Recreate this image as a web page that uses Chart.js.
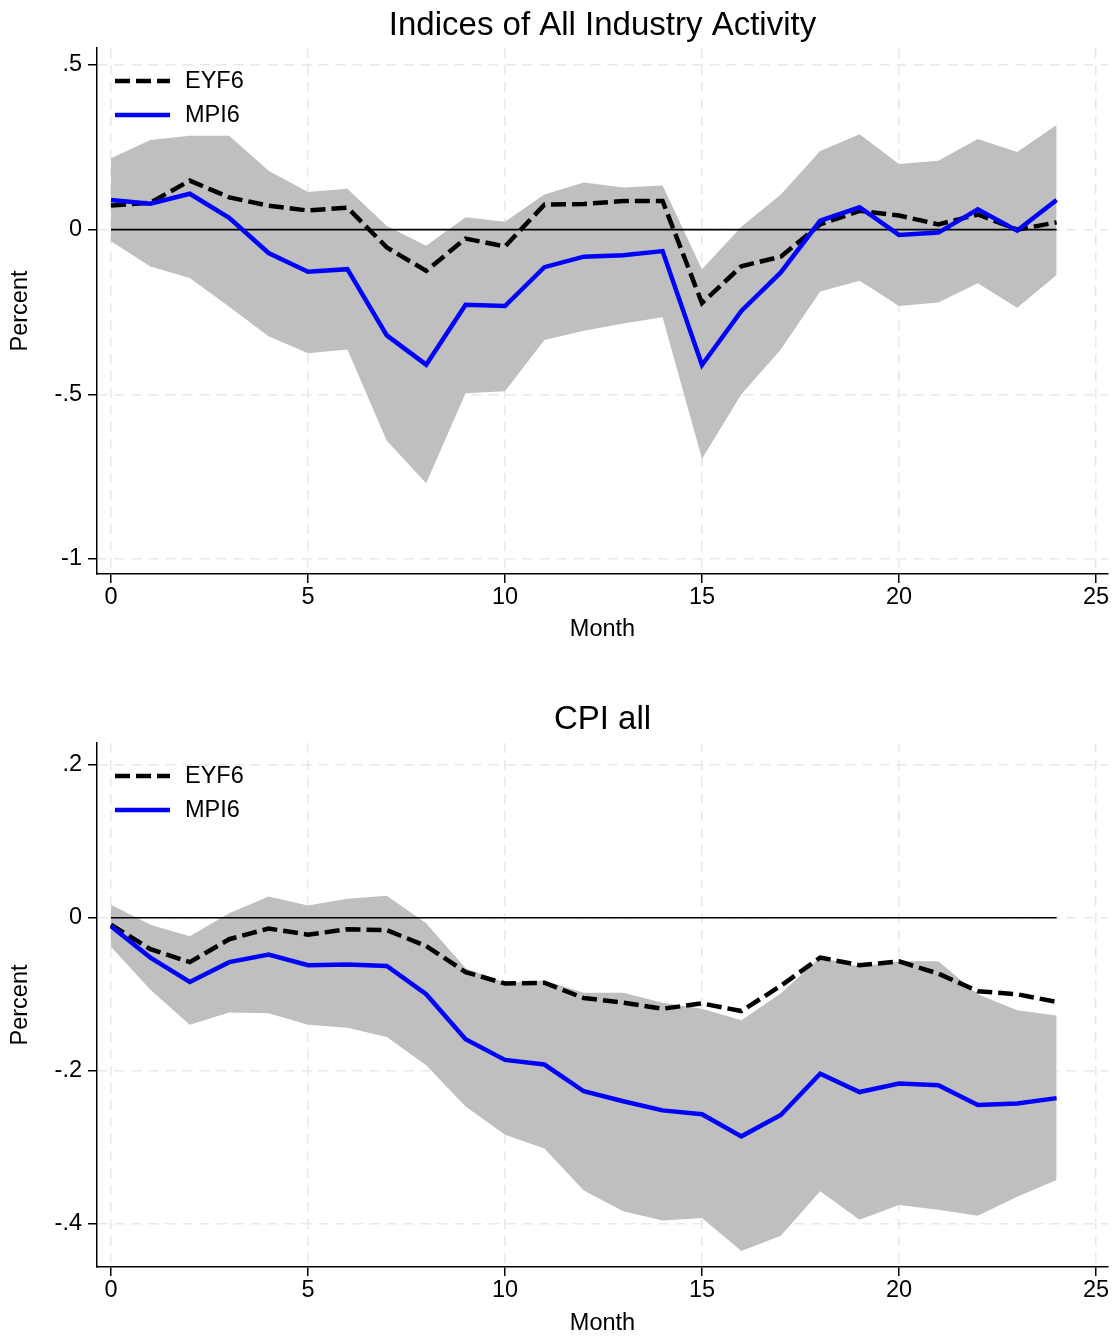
<!DOCTYPE html>
<html>
<head>
<meta charset="utf-8">
<script src="https://cdn.jsdelivr.net/npm/chart.js@4.4.1/dist/chart.umd.min.js"></script>
<style>
  body { margin: 0; background: #fff; }
  .panel { position: absolute; left: 0; }
</style>
</head>
<body>
<div class="panel" style="top:0"><canvas id="industry" width="1115" height="645"></canvas></div>
<div class="panel" style="top:645px"><canvas id="cpi" width="1115" height="691"></canvas></div>
<script>
// months after the shock
const months = [0, 1, 2, 3, 4, 5, 6, 7, 8, 9, 10, 11, 12, 13, 14, 15, 16, 17, 18, 19, 20, 21, 22, 23, 24];
const xTicks = [0, 5, 10, 15, 20, 25];

// Indices of All Industry Activity
const iaaEYF6  = [0.073, 0.082, 0.149, 0.098, 0.073, 0.058, 0.067, -0.054, -0.125, -0.027, -0.051, 0.076, 0.078, 0.087, 0.087, -0.223, -0.111, -0.082, 0.016, 0.057, 0.043, 0.016, 0.046, 0.000, 0.022];
const iaaMPI6  = [0.090, 0.079, 0.109, 0.036, -0.071, -0.128, -0.120, -0.321, -0.410, -0.228, -0.232, -0.114, -0.082, -0.078, -0.065, -0.411, -0.247, -0.130, 0.027, 0.068, -0.016, -0.009, 0.062, -0.003, 0.090];
const iaaUpper = [0.217, 0.272, 0.285, 0.285, 0.179, 0.114, 0.124, 0.011, -0.049, 0.038, 0.024, 0.107, 0.143, 0.128, 0.134, -0.120, 0.009, 0.107, 0.239, 0.290, 0.199, 0.209, 0.275, 0.236, 0.318];
const iaaLower = [-0.035, -0.112, -0.147, -0.234, -0.324, -0.375, -0.364, -0.641, -0.770, -0.497, -0.491, -0.335, -0.307, -0.285, -0.266, -0.696, -0.500, -0.364, -0.188, -0.155, -0.232, -0.221, -0.163, -0.237, -0.138];
const iaaYTicks = [-1, -0.5, 0, 0.5];
const iaaYLabels = ['-1', '-.5', '0', '.5'];

// CPI all
const cpiEYF6  = [-0.009, -0.041, -0.058, -0.028, -0.014, -0.022, -0.015, -0.016, -0.037, -0.071, -0.086, -0.085, -0.105, -0.111, -0.119, -0.112, -0.122, -0.089, -0.052, -0.062, -0.057, -0.073, -0.096, -0.100, -0.110];
const cpiMPI6  = [-0.011, -0.052, -0.084, -0.058, -0.048, -0.062, -0.061, -0.063, -0.100, -0.159, -0.186, -0.192, -0.227, -0.240, -0.252, -0.257, -0.286, -0.258, -0.204, -0.228, -0.217, -0.219, -0.245, -0.243, -0.236];
const cpiUpper = [0.017, -0.009, -0.024, 0.006, 0.028, 0.016, 0.025, 0.029, -0.007, -0.066, -0.085, -0.082, -0.098, -0.098, -0.111, -0.119, -0.134, -0.099, -0.052, -0.064, -0.057, -0.057, -0.100, -0.121, -0.128];
const cpiLower = [-0.038, -0.094, -0.140, -0.124, -0.125, -0.140, -0.144, -0.156, -0.193, -0.247, -0.284, -0.302, -0.357, -0.384, -0.396, -0.393, -0.436, -0.416, -0.358, -0.395, -0.376, -0.382, -0.390, -0.365, -0.343];
const cpiYTicks = [-0.4, -0.2, 0, 0.2];
const cpiYLabels = ['-.4', '-.2', '0', '.2'];

Chart.defaults.font.family = '"Liberation Sans", Arial, sans-serif';
Chart.defaults.color = '#000';

const FONT = 23.5;
const GRID = '#e8e8e8';
const DASH = [15, 6];

const pts = arr => months.map((m, i) => ({ x: m, y: arr[i] }));

// legend drawn inside the plot, top-left, like the original
const insideLegend = {
  id: 'insideLegend',
  afterDatasetsDraw(chart) {
    const { ctx, chartArea } = chart;
    const items = chart.data.datasets.filter(d => d.inLegend);
    items.forEach((d, i) => {
      const y = chartArea.top + 33 + i * 34;
      ctx.save();
      ctx.strokeStyle = d.borderColor;
      ctx.lineWidth = d.borderWidth;
      ctx.setLineDash(d.borderDash || []);
      ctx.beginPath();
      ctx.moveTo(chartArea.left + 18, y);
      ctx.lineTo(chartArea.left + 73, y);
      ctx.stroke();
      ctx.setLineDash([]);
      ctx.fillStyle = '#000';
      ctx.font = FONT + 'px "Liberation Sans", Arial, sans-serif';
      ctx.textBaseline = 'middle';
      ctx.fillText(d.label, chartArea.left + 88, y + 1);
      ctx.restore();
    });
  }
};

function makePanel(id, p) {
  new Chart(document.getElementById(id), {
    type: 'line',
    data: {
      datasets: [
        { label: 'upper', data: pts(p.upper), fill: '+1', backgroundColor: '#bfbfbf',
          borderColor: 'rgba(0,0,0,0)', borderWidth: 0, pointRadius: 0, order: 4 },
        { label: 'lower', data: pts(p.lower), fill: false, backgroundColor: '#bfbfbf',
          borderColor: 'rgba(0,0,0,0)', borderWidth: 0, pointRadius: 0, order: 5 },
        { label: 'zero', data: [{ x: months[0], y: 0 }, { x: months[months.length - 1], y: 0 }],
          borderColor: '#000', borderWidth: 1.6, pointRadius: 0, fill: false, order: 3 },
        { label: 'EYF6', inLegend: true, data: pts(p.eyf), borderColor: '#000', borderWidth: 4.5,
          borderDash: DASH, pointRadius: 0, fill: false, order: 2 },
        { label: 'MPI6', inLegend: true, data: pts(p.mpi), borderColor: '#0000ff', borderWidth: 4.5,
          pointRadius: 0, fill: false, order: 1 }
      ]
    },
    options: {
      responsive: false,
      animation: false,
      devicePixelRatio: 1,
      layout: { padding: { left: 0, right: 7, top: 0, bottom: 0 } },
      plugins: {
        legend: { display: false },
        tooltip: { enabled: false },
        title: {
          display: true, text: p.title, color: '#000', fullSize: false,
          font: { size: 33, weight: 'normal', lineHeight: 1.2 },
          padding: { top: p.titleTop, bottom: p.titleBottom }
        }
      },
      elements: { line: { tension: 0 } },
      scales: {
        x: {
          type: 'linear', min: -0.355, max: 25.305,
          afterBuildTicks: s => { s.ticks = xTicks.map(v => ({ value: v })); },
          afterFit: s => { s.height = p.xHeight; },
          ticks: { autoSkip: false, maxRotation: 0, padding: 0, font: { size: FONT }, callback: v => String(v) },
          grid: { color: GRID, lineWidth: 1.5, tickLength: 9, tickColor: '#000', tickWidth: 1.5 },
          border: { display: true, color: '#000', width: 1.5, dash: [10, 7] },
          title: { display: true, text: 'Month', font: { size: FONT, lineHeight: 1.2 },
                   padding: { top: 0, bottom: p.monthPad } }
        },
        y: {
          min: p.yMin, max: p.yMax,
          afterBuildTicks: s => { s.ticks = p.yTicks.map(v => ({ value: v })); },
          afterFit: s => { s.width = 97; },
          ticks: { autoSkip: false, padding: 6, font: { size: FONT }, callback: (v, i) => p.yLabels[i] },
          grid: { color: GRID, lineWidth: 1.5, tickLength: 9, tickColor: '#000', tickWidth: 1.5 },
          border: { display: true, color: '#000', width: 1.5, dash: [10, 7] },
          title: { display: true, text: 'Percent', font: { size: FONT, lineHeight: 1.2 },
                   padding: { top: 6, bottom: 0 } }
        }
      }
    },
    plugins: [insideLegend]
  });
}

makePanel('industry', {
  title: 'Indices of All Industry Activity', titleTop: 6.5, titleBottom: 1.9,
  upper: iaaUpper, lower: iaaLower, eyf: iaaEYF6, mpi: iaaMPI6,
  yMin: -1.0456, yMax: 0.5516, yTicks: iaaYTicks, yLabels: iaaYLabels,
  xHeight: 71, monthPad: 1
});

makePanel('cpi', {
  title: 'CPI all', titleTop: 55.5, titleBottom: 2.9,
  upper: cpiUpper, lower: cpiLower, eyf: cpiEYF6, mpi: cpiMPI6,
  yMin: -0.457, yMax: 0.2288, yTicks: cpiYTicks, yLabels: cpiYLabels,
  xHeight: 69, monthPad: -2
});
</script>
</body>
</html>
